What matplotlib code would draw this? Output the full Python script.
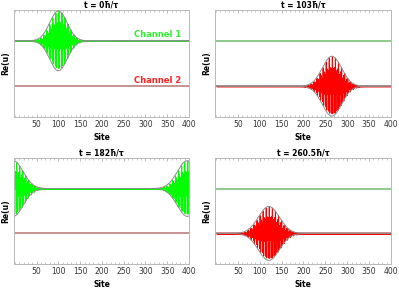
import numpy as np
import matplotlib.pyplot as plt
from matplotlib.ticker import MultipleLocator

# snapshot times (in units of hbar/tau) and the wave packet seen in each panel
times = ['0', '103', '182', '260.5']
packet_channel = [1, 2, 1, 2]          # which channel carries the packet
packet_center = [100, 265, 396, 121]   # site of packet maximum
packet_width = [20, 22, 23, 24]        # gaussian width in sites
packet_amp = [0.66, 0.66, 0.62, 0.60]  # amplitude relative to channel spacing
packet_k = [2.686, 2.686, 2.686, 2.686]  # carrier wavenumber (per site)

n_sites = 400
channel_offset = {1: 1.0, 2: 0.0}
fill_color = {1: '#00ff00', 2: '#ff0000'}
line_color = {1: '#6cbf6c', 2: '#b87474'}

sites = np.arange(1, n_sites + 1)

fig = plt.figure(figsize=(3.99, 2.90), dpi=100)
boxes = [
    (14 / 399, 1 - 117 / 290, 175 / 399, 107 / 290),
    (215 / 399, 1 - 117 / 290, 176 / 399, 107 / 290),
    (14 / 399, 1 - 264 / 290, 175 / 399, 106 / 290),
    (215 / 399, 1 - 264 / 290, 176 / 399, 106 / 290),
]

for i, box in enumerate(boxes):
    ax = fig.add_axes(box)
    ch = packet_channel[i]
    # periodic distance to the packet centre
    d = (sites - packet_center[i] + n_sites / 2) % n_sites - n_sites / 2
    env = packet_amp[i] * np.exp(-d ** 2 / (2 * packet_width[i] ** 2))
    re_u = env * np.cos(packet_k[i] * d)
    base = channel_offset[ch]

    for c in (1, 2):
        ax.axhline(channel_offset[c], color=line_color[c], lw=1.1, zorder=1)
    ax.fill_between(sites, base, base + re_u, facecolor=fill_color[ch],
                    edgecolor=fill_color[ch], lw=0.8, zorder=2)
    ax.plot(sites, base + env, color='#8c8c8c', lw=0.7, zorder=3)
    ax.plot(sites, base - env, color='#8c8c8c', lw=0.7, zorder=3)

    ax.set_xlim(-2, 400)
    ax.set_ylim(-0.68, 1.68)
    ax.set_yticks([])
    ax.xaxis.set_minor_locator(MultipleLocator(10))
    ax.set_xticks(np.arange(50, 401, 50))
    ax.tick_params(axis='x', which='both', direction='in', top=True,
                   colors='#a0a0a0', labelcolor='#333333', labelsize=5.5, pad=2)
    ax.tick_params(axis='x', which='major', length=2.2, width=0.5)
    ax.tick_params(axis='x', which='minor', length=1.2, width=0.4)
    for sp in ax.spines.values():
        sp.set_color('#b8b8b8')
        sp.set_linewidth(0.7)

    ax.set_title(f't = {times[i]}ħ/τ', fontsize=5.5, fontweight='bold', pad=2)
    ax.set_xlabel('Site', fontsize=5.5, fontweight='bold', labelpad=3)
    ax.set_ylabel('Re(u)', fontsize=5.5, fontweight='bold', labelpad=3)

    if i == 0:
        ax.text(383, 1.03, 'Channel 1', color='#33ee33', fontsize=6,
                fontweight='bold', ha='right', va='bottom')
        ax.text(383, 0.03, 'Channel 2', color='#ff2222', fontsize=6,
                fontweight='bold', ha='right', va='bottom')

fig.savefig('out.png', dpi=100)
